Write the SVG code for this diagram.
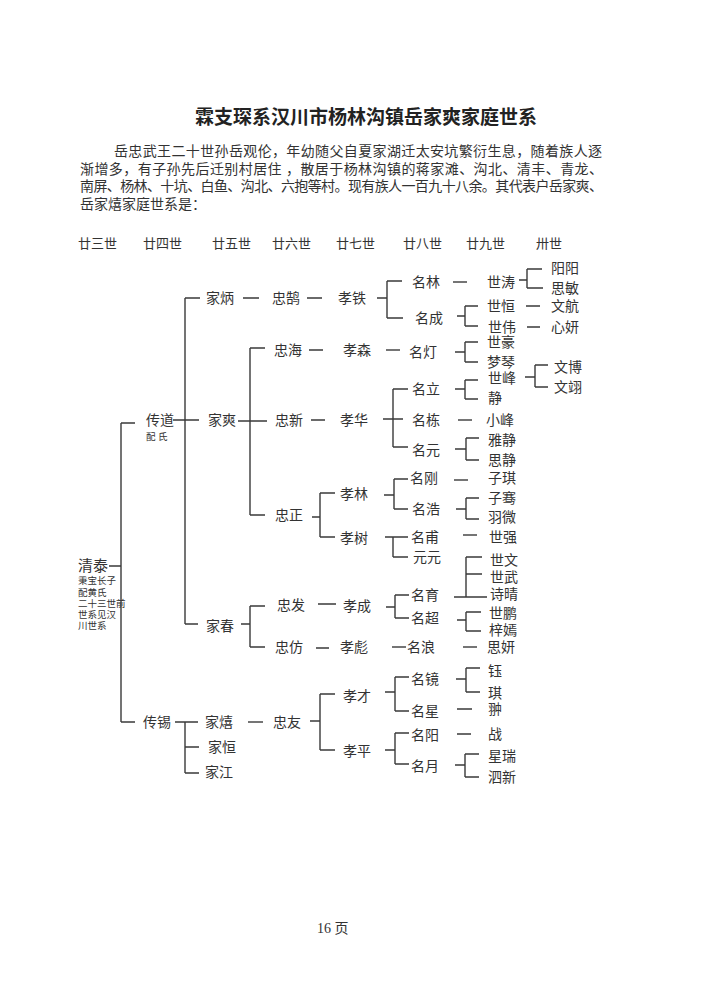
<svg xmlns="http://www.w3.org/2000/svg" width="712" height="1005" viewBox="0 0 712 1005">
<style>
text{font-family:"Liberation Serif","Noto Sans CJK SC",serif;fill:#333;dominant-baseline:central}
.n{font-size:14px}
.h{font-size:13px}
.s{font-size:9.5px}
.p{font-size:14px}
.t{font-size:19px;font-weight:bold;fill:#222}
#connectors path{fill:none;stroke:#3a3a3a;stroke-width:1.4}
</style>
<rect width="712" height="1005" fill="#fff"/>
<text class="t" x="366" y="117" text-anchor="middle">霖支琛系汉川市杨林沟镇岳家爽家庭世系</text>
<g id="intro">
<text class="p" x="114" y="151" textLength="488" lengthAdjust="spacing">岳忠武王二十世孙岳观伦，年幼随父自夏家湖迁太安坑繁衍生息，随着族人逐</text>
<text class="p" x="80" y="169" textLength="523" lengthAdjust="spacing">渐增多，有子孙先后迁别村居住 ，散居于杨林沟镇的蒋家滩、沟北、清丰、青龙、</text>
<text class="p" x="80" y="186.5" textLength="523" lengthAdjust="spacing">南屏、杨林、十坑、白鱼、沟北、六抱等村。现有族人一百九十八余。其代表户岳家爽、</text>
<text class="p" x="80" y="204">岳家熺家庭世系是：</text>
</g>
<g id="header">
<text class="h" x="78" y="243">廿三世</text>
<text class="h" x="143" y="243">廿四世</text>
<text class="h" x="212" y="243">廿五世</text>
<text class="h" x="272" y="243">廿六世</text>
<text class="h" x="336" y="243">廿七世</text>
<text class="h" x="403" y="243">廿八世</text>
<text class="h" x="466" y="243">廿九世</text>
<text class="h" x="536" y="243">卅世</text>
</g>
<g id="connectors">
<path d="M109 566H121M121 423V722M121 423H135M121 722H135"/>
<path d="M173 420H199M185 298V624M185 298H200M185 624H198"/>
<path d="M243 298H259M307 298H322"/>
<path d="M238 421H267M250 348V515M250 348H265M250 515H265"/>
<path d="M241 624H250M250 606V647M250 606H265M250 647H265"/>
<path d="M175 722H198M185 722V773M185 747H199M185 773H199"/>
<path d="M248 722H263"/>
<path d="M309 350H323M311 420H325"/>
<path d="M312 517H320M320 493V537M320 493H335M320 537H335"/>
<path d="M318 604H336M316 648H329"/>
<path d="M310 721H320M320 694V750M320 694H335M320 750H335"/>
<path d="M377 298H387M387 281V318M387 281H402M387 318H403"/>
<path d="M386 350H400"/>
<path d="M383 419H403M393 389V447M393 389H408M393 447H408"/>
<path d="M384 495H394M394 479V509M394 479H408M394 509H408"/>
<path d="M385 537H408M393 537V557M393 557H408"/>
<path d="M386 607H395M395 595V618M395 595H409M395 618H409"/>
<path d="M392 647H406"/>
<path d="M385 692H395M395 677V711M395 677H409M395 711H409"/>
<path d="M385 750H395M395 733V764M395 733H409M395 764H409"/>
<path d="M453 282H467"/>
<path d="M457 316H465M465 306V326M465 306H478M465 326H478"/>
<path d="M455 352H465M465 342V362M465 342H478M465 362H478"/>
<path d="M455 389H465M465 380V399M465 380H478M465 399H478"/>
<path d="M458 420H472"/>
<path d="M455 449H466M466 438V460M466 438H479M466 460H479"/>
<path d="M454 480H468"/>
<path d="M456 509H466M466 498V519M466 498H479M466 519H479"/>
<path d="M463 535H477"/>
<path d="M454 597H487M466 557V597M466 557H482M466 574H482"/>
<path d="M457 620H466M466 612V631M466 612H481M466 631H481"/>
<path d="M463 647H477"/>
<path d="M456 679H466M466 668V692M466 668H480M466 692H480"/>
<path d="M457 709H472M457 734H471"/>
<path d="M455 765H465M465 754V777M465 754H479M465 777H479"/>
<path d="M519 280H527M527 269V288M527 269H542M527 288H543"/>
<path d="M526 306H540M527 327H540"/>
<path d="M525 377H535M535 365V387M535 365H548M535 387H548"/>
</g>
<g id="n-qingtai"><text x="78" y="566" style="font-size:15px">清泰</text>
<text class="s" x="78" y="581">秉宝长子</text><text class="s" x="78" y="593">配黄氏</text><text class="s" x="78" y="604">二十三世前</text><text class="s" x="78" y="615">世系见汉</text><text class="s" x="78" y="626">川世系</text></g>
<g id="n-chuandao"><text class="n" x="146" y="420">传道</text><text class="s" x="146" y="437">配 氏</text></g>
<g id="n-chuanxi"><text class="n" x="143" y="722">传锡</text></g>
<g id="n-jiabing"><text class="n" x="206" y="298">家炳</text></g>
<g id="n-jiashuang"><text class="n" x="208" y="420">家爽</text></g>
<g id="n-jiachun"><text class="n" x="206" y="626">家春</text></g>
<g id="n-jiaxi"><text class="n" x="205" y="722">家熺</text></g>
<g id="n-jiaheng"><text class="n" x="208" y="747">家恒</text></g>
<g id="n-jiajiang"><text class="n" x="205" y="772">家江</text></g>
<g id="n-zhonghu"><text class="n" x="272" y="298">忠鹄</text></g>
<g id="n-zhonghai"><text class="n" x="274" y="350">忠海</text></g>
<g id="n-zhongxin"><text class="n" x="275" y="420">忠新</text></g>
<g id="n-zhongzheng"><text class="n" x="275" y="515">忠正</text></g>
<g id="n-zhongfa"><text class="n" x="277" y="605">忠发</text></g>
<g id="n-zhongfang"><text class="n" x="275" y="647">忠仿</text></g>
<g id="n-zhongyou"><text class="n" x="273" y="722">忠友</text></g>
<g id="n-xiaotie"><text class="n" x="338" y="298">孝铁</text></g>
<g id="n-xiaosen"><text class="n" x="343" y="350">孝森</text></g>
<g id="n-xiaohua"><text class="n" x="340" y="420">孝华</text></g>
<g id="n-xiaolin"><text class="n" x="340" y="494">孝林</text></g>
<g id="n-xiaoshu"><text class="n" x="340" y="538">孝树</text></g>
<g id="n-xiaocheng"><text class="n" x="343" y="606">孝成</text></g>
<g id="n-xiaobiao"><text class="n" x="340" y="647">孝彪</text></g>
<g id="n-xiaocai"><text class="n" x="343" y="696">孝才</text></g>
<g id="n-xiaoping"><text class="n" x="343" y="751">孝平</text></g>
<g id="n-minglin"><text class="n" x="412" y="282">名林</text></g>
<g id="n-mingcheng"><text class="n" x="415" y="318">名成</text></g>
<g id="n-mingdeng"><text class="n" x="409" y="352">名灯</text></g>
<g id="n-mingli"><text class="n" x="412" y="389">名立</text></g>
<g id="n-mingdong"><text class="n" x="412" y="420">名栋</text></g>
<g id="n-mingyuan"><text class="n" x="412" y="450">名元</text></g>
<g id="n-minggang"><text class="n" x="410" y="478">名刚</text></g>
<g id="n-minghao"><text class="n" x="412" y="509">名浩</text></g>
<g id="n-mingfu"><text class="n" x="411" y="537">名甫</text></g>
<g id="n-yuanyuan"><text class="n" x="413" y="557">元元</text></g>
<g id="n-mingyu"><text class="n" x="411" y="595">名育</text></g>
<g id="n-mingchao"><text class="n" x="411" y="618">名超</text></g>
<g id="n-minglang"><text class="n" x="407" y="647">名浪</text></g>
<g id="n-mingjing"><text class="n" x="411" y="679">名镜</text></g>
<g id="n-mingxing"><text class="n" x="411" y="711">名星</text></g>
<g id="n-mingyang"><text class="n" x="411" y="735">名阳</text></g>
<g id="n-mingyue"><text class="n" x="411" y="766">名月</text></g>
<g id="n-shitao"><text class="n" x="487" y="282">世涛</text></g>
<g id="n-shiheng"><text class="n" x="487" y="306">世恒</text></g>
<g id="n-shiwei"><text class="n" x="488" y="327">世伟</text></g>
<g id="n-shihao"><text class="n" x="487" y="342">世豪</text></g>
<g id="n-mengqin"><text class="n" x="487" y="362">梦琴</text></g>
<g id="n-shifeng"><text class="n" x="488" y="378">世峰</text></g>
<g id="n-jing"><text class="n" x="488" y="398">静</text></g>
<g id="n-xiaofeng"><text class="n" x="486" y="420">小峰</text></g>
<g id="n-yajing"><text class="n" x="488" y="440">雅静</text></g>
<g id="n-sijing"><text class="n" x="488" y="460">思静</text></g>
<g id="n-ziqi"><text class="n" x="488" y="478">子琪</text></g>
<g id="n-ziqian"><text class="n" x="488" y="498">子骞</text></g>
<g id="n-yuwei"><text class="n" x="488" y="517">羽微</text></g>
<g id="n-shiqiang"><text class="n" x="489" y="537">世强</text></g>
<g id="n-shiwen"><text class="n" x="490" y="560">世文</text></g>
<g id="n-shiwu"><text class="n" x="490" y="577">世武</text></g>
<g id="n-shiqing"><text class="n" x="490" y="594">诗晴</text></g>
<g id="n-shipeng"><text class="n" x="489" y="613">世鹏</text></g>
<g id="n-ziyan"><text class="n" x="489" y="630">梓嫣</text></g>
<g id="n-siyan"><text class="n" x="487" y="647">思妍</text></g>
<g id="n-yu"><text class="n" x="488" y="671">钰</text></g>
<g id="n-qi"><text class="n" x="488" y="693">琪</text></g>
<g id="n-chong"><text class="n" x="488" y="709">翀</text></g>
<g id="n-zhan"><text class="n" x="488" y="734">战</text></g>
<g id="n-xingrui"><text class="n" x="488" y="756">星瑞</text></g>
<g id="n-sixin"><text class="n" x="488" y="777">泗新</text></g>
<g id="n-yangyang"><text class="n" x="551" y="268">阳阳</text></g>
<g id="n-simin"><text class="n" x="551" y="288">思敏</text></g>
<g id="n-wenhang"><text class="n" x="551" y="306">文航</text></g>
<g id="n-xinyan"><text class="n" x="551" y="327">心妍</text></g>
<g id="n-wenbo"><text class="n" x="554" y="367">文博</text></g>
<g id="n-wenyi"><text class="n" x="554" y="387">文翊</text></g>
<text class="p" x="317" y="928">16 页</text>
</svg>
